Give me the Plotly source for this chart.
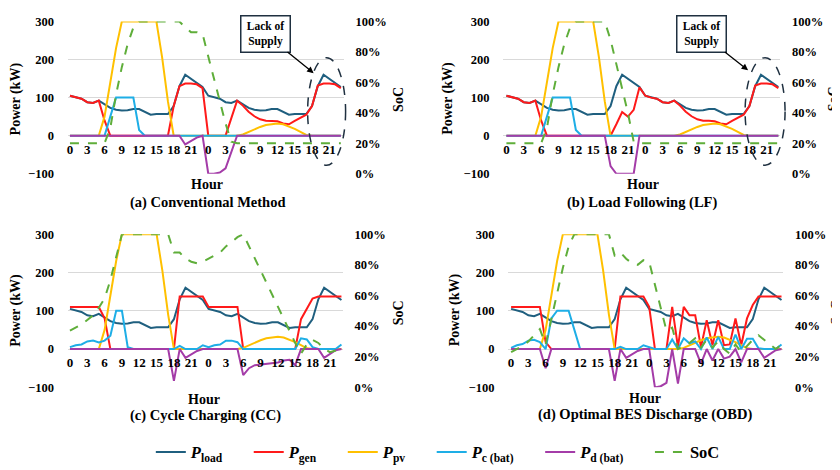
import plotly.graph_objects as go

hours = list(range(48))
tick_vals = list(range(0, 48, 3))
tick_text = ["0", "3", "6", "9", "12", "15", "18", "21"] * 2
power_ticks = [-100, 0, 100, 200, 300]
soc_ticks = [0, 20, 40, 60, 80, 100]
soc_labels = ["0%", "20%", "40%", "60%", "80%", "100%"]

load_day = [105, 100, 97, 88, 86, 92, 82, 73, 68, 66, 67, 70, 70, 62, 55, 57, 57, 57, 78, 130, 160, 150, 140, 128]
load = load_day + load_day
pv = [0, 0, 0, 0, 0, 0, 50, 140, 230, 300, 300, 300, 300, 300, 300, 300, 205, 90, 0, 0, 0, 0, 0, 0,
      0, 0, 0, 0, 0, 0, 3, 10, 17, 23, 28, 31, 32, 30, 25, 18, 10, 2, 0, 0, 0, 0, 0, 0]

# (a) Conventional
gen_a = [105, 100, 97, 88, 86, 92, 40, 0, 0, 0, 0, 0, 0, 0, 0, 0, 0, 0, 78, 130, 137, 137, 135, 125,
         0, 0, 0, 0, 46, 92, 79, 63, 51, 43, 39, 39, 38, 32, 30, 39, 47, 55, 78, 132, 137, 137, 135, 125]
pc_a = [0, 0, 0, 0, 0, 0, 0, 50, 100, 100, 100, 100, 15, 0, 0, 0, 0, 0, 0, 0, 0, 0, 0, 0,
        0, 0, 0, 0, 0, 0, 0, 0, 0, 0, 0, 0, 0, 0, 0, 0, 0, 0, 0, 0, 0, 0, 0, 0]
pd_a = [0, 0, 0, 0, 0, 0, 0, 0, 0, 0, 0, 0, 0, 0, 0, 0, 0, 0, 0, 0, -23, -13, -5, 0,
        -100, -100, -97, -86, -40, 0, 0, 0, 0, 0, 0, 0, 0, 0, 0, 0, 0, 0, 0, 0, 0, 0, 0, 0]
soc_a = [20, 20, 20, 20, 20, 20, 20, 30, 52, 70, 85, 96, 100, 100, 100, 100, 100, 100, 100, 100, 96, 93, 93, 92,
         77, 62, 47, 33, 21, 20, 20, 20, 20, 20, 20, 20, 20, 20, 20, 20, 20, 20, 20, 20, 20, 20, 20, 20]

# (b) Load Following
gen_b = [105, 100, 97, 88, 86, 92, 40, 0, 0, 0, 0, 0, 0, 0, 0, 0, 0, 0, 0, 30, 62, 50, 68, 127,
         105, 100, 97, 88, 86, 92, 79, 63, 51, 43, 39, 39, 38, 32, 30, 39, 47, 55, 78, 132, 137, 137, 135, 125]
pc_b = pc_a
pd_b = [0, 0, 0, 0, 0, 0, 0, 0, 0, 0, 0, 0, 0, 0, 0, 0, 0, 0, -80, -100, -100, -100, -100, 0,
        0, 0, 0, 0, 0, 0, 0, 0, 0, 0, 0, 0, 0, 0, 0, 0, 0, 0, 0, 0, 0, 0, 0, 0]
soc_b = [20, 20, 20, 20, 20, 20, 20, 30, 52, 70, 85, 96, 100, 100, 100, 100, 100, 100, 88, 72, 56, 40, 21, 20,
         20, 20, 20, 20, 20, 20, 20, 20, 20, 20, 20, 20, 20, 20, 20, 20, 20, 20, 20, 20, 20, 20, 20, 20]

# (c) Cycle Charging
gen_c = [110, 110, 110, 110, 110, 110, 80, 0, 0, 0, 0, 0, 0, 0, 0, 0, 0, 0, 0, 137, 137, 137, 137, 137,
         110, 110, 110, 110, 110, 110, 0, 0, 0, 0, 0, 0, 0, 0, 0, 0, 78, 105, 132, 137, 137, 137, 137, 137]
pc_c = [5, 10, 12, 20, 22, 17, 22, 35, 100, 100, 5, 0, 0, 0, 0, 0, 0, 0, 0, 8, 0, 0, 0, 10,
        5, 10, 12, 22, 22, 18, 0, 0, 0, 0, 0, 0, 0, 0, 0, 0, 28, 25, 5, 0, 0, 0, 0, 12]
pd_c = [0, 0, 0, 0, 0, 0, 0, 0, 0, 0, 0, 0, 0, 0, 0, 0, 0, 0, -83, 0, -23, -13, -5, 0,
        0, 0, 0, 0, 0, 0, -68, -50, -42, -40, -38, -37, -35, -30, -28, -42, 0, 0, 0, 0, -23, -13, -3, 0]
soc_c = [37, 39, 41, 44, 47, 52, 58, 70, 86, 100, 100, 100, 100, 100, 100, 100, 100, 100, 88, 88, 84, 82, 81, 82,
         84, 86, 88, 92, 95, 98, 100, 92, 84, 76, 68, 61, 53, 45, 37, 29, 22, 28, 31, 29, 25, 23, 24, 27]

# (d) Optimal BES Discharge
gen_d = [110, 110, 110, 110, 110, 110, 18, 0, 0, 0, 0, 0, 0, 0, 0, 0, 0, 0, 0, 137, 137, 137, 137, 137,
         110, 0, 0, 0, 110, 5, 110, 88, 88, 5, 75, 10, 75, 10, 12, 80, 10, 80, 115, 137, 137, 137, 137, 137]
pc_d = [3, 10, 13, 22, 24, 18, 0, 80, 100, 100, 100, 50, 0, 0, 0, 0, 0, 0, 0, 6, 0, 0, 0, 10,
        5, 0, 0, 0, 25, 0, 28, 15, 20, 0, 30, 0, 32, 0, 0, 38, 0, 27, 27, 2, 0, 0, 0, 12]
pd_d = [0, 0, 0, 0, 0, 0, -50, 0, 0, 0, 0, 0, 0, 0, 0, 0, 0, 0, -83, 0, -23, -13, -5, 0,
        0, -100, -97, -88, 0, -90, 0, 0, 0, -38, 0, -30, 0, -25, -20, 0, -35, 0, 0, 0, -23, -13, -3, 0]
soc_d = [23, 25, 27, 30, 34, 38, 28, 45, 62, 78, 92, 100, 100, 100, 100, 100, 100, 100, 86, 88, 84, 81, 80, 83,
         82, 67, 52, 37, 39, 25, 27, 29, 32, 26, 31, 26, 30, 25, 22, 28, 23, 27, 31, 34, 31, 28, 25, 28]

panels = [
    dict(gen=gen_a, pc=pc_a, pd=pd_a, soc=soc_a, title="(a) Conventional Method"),
    dict(gen=gen_b, pc=pc_b, pd=pd_b, soc=soc_b, title="(b) Load Following (LF)"),
    dict(gen=gen_c, pc=pc_c, pd=pd_c, soc=soc_c, title="(c) Cycle Charging (CC)"),
    dict(gen=gen_d, pc=pc_d, pd=pd_d, soc=soc_d, title="(d) Optimal BES Discharge (OBD)"),
]

C_LOAD = "#1F5F7F"
C_GEN = "#FF1A1A"
C_PV = "#FFC000"
C_PC = "#1EAEE6"
C_PD = "#A43CA8"
C_SOC = "#5FAE3A"

# the page body has an 8px margin: figure is 832x462 placed at (8, 8) of the 840x470 window
OFF = 8
W, H = 840 - OFF, 470 - OFF
FONT = "Liberation Serif"


def px(x):
    return (x - OFF) / W


def py(y):
    return 1 - (y - OFF) / H


def bfont(size):
    return dict(family=FONT, size=size, color="black", weight="bold")


# window-pixel layout of each panel: plot left, right, top, bottom, x-range
geo = [
    dict(l=67, r=343, t=14.7, b=171.7, xr=[-0.35, 47.48]),
    dict(l=503, r=780, t=14.7, b=171.7, xr=[-0.52, 47.3]),
    dict(l=67, r=342, t=234, b=392, xr=[-0.35, 47.2]),
    dict(l=508, r=783, t=234, b=392, xr=[-0.47, 47.27]),
]

fig = go.Figure()
pad = "\u00a0" * 5
names = ["<b><i>P</i></b><sub><b>load</b></sub>" + pad, "<b><i>P</i></b><sub><b>gen</b></sub>" + pad,
         "<b><i>P</i></b><sub><b>pv</b></sub>" + pad, "<b><i>P</i></b><sub><b>c (bat)</b></sub>" + pad,
         "<b><i>P</i></b><sub><b>d (bat)</b></sub>" + pad, "<b>SoC</b>"]

for i, p in enumerate(panels):
    k = i + 1
    xa = "x" if k == 1 else f"x{k}"
    ya = "y" if k == 1 else f"y{k}"
    yr = f"y{k + 4}"
    show = (k == 1)
    series = [(load, C_LOAD), (p["gen"], C_GEN), (pv, C_PV), (p["pc"], C_PC), (p["pd"], C_PD)]
    for j, (vals, col) in enumerate(series):
        fig.add_trace(go.Scatter(x=hours, y=vals, mode="lines", name=names[j], showlegend=show,
                                 line=dict(color=col, width=2), xaxis=xa, yaxis=ya, hoverinfo="skip"))
    fig.add_trace(go.Scatter(x=hours, y=p["soc"], mode="lines", name=names[5], showlegend=show,
                             line=dict(color=C_SOC, width=2, dash="dash"), xaxis=xa, yaxis=yr, hoverinfo="skip"))

layout = dict(width=W, height=H, margin=dict(l=0, r=0, t=0, b=0),
              paper_bgcolor="white", plot_bgcolor="white",
              font=bfont(13),
              legend=dict(orientation="h", x=px(150), xanchor="left", y=py(459), yanchor="middle",
                          font=dict(family=FONT, size=16.5, color="black"), itemwidth=30,
                          bgcolor="rgba(0,0,0,0)"))

annotations = []
shapes = []
for i, g in enumerate(geo):
    k = i + 1
    xd = [px(g["l"]), px(g["r"])]
    yd = [py(g["b"]), py(g["t"])]
    zero_px = g["b"] - (g["b"] - g["t"]) * 0.25
    sfx = "" if k == 1 else str(k)
    layout[f"xaxis{sfx}"] = dict(domain=xd, range=g["xr"], anchor="free", position=py(zero_px + 2),
                                 tickmode="array", tickvals=tick_vals, ticktext=tick_text,
                                 showgrid=False, zeroline=False, showline=False, ticks="",
                                 ticklabelstandoff=2, tickfont=bfont(13))
    layout[f"yaxis{sfx}"] = dict(domain=yd, range=[-100, 300], anchor=f"x{sfx}" if k > 1 else "x",
                                 tickmode="array", tickvals=power_ticks,
                                 showgrid=True, gridcolor="#D9D9D9", gridwidth=1,
                                 zeroline=False, showline=False, ticks="", ticklabelstandoff=13,
                                 tickfont=bfont(12.5))
    layout[f"yaxis{k + 4}"] = dict(overlaying="y" if k == 1 else f"y{k}", side="right",
                                   anchor="x" if k == 1 else f"x{k}", range=[0, 100],
                                   tickmode="array", tickvals=soc_ticks, ticktext=soc_labels,
                                   showgrid=False, zeroline=False,
                                   showline=False, ticks="", ticklabelstandoff=11,
                                   tickfont=bfont(12.5))

# text labels: (x, y) window-pixel centres
ptitle = [(15, 94), (448, 94), (15, 312), (454, 312)]
soct = [(398, 95), (833, 95), (398, 315), (837, 315)]
hourt = [(206, 183), (643, 183), (203, 404), (645, 403)]
subt = [(207, 201), (642, 201), (205, 421), (645, 420)]
for i in range(4):
    annotations.append(dict(x=px(ptitle[i][0]), y=py(ptitle[i][1]), xref="paper", yref="paper",
                            xanchor="center", yanchor="middle",
                            text="Power (kW)", textangle=-90, showarrow=False, font=bfont(14)))
    annotations.append(dict(x=px(soct[i][0]), y=py(soct[i][1]), xref="paper", yref="paper",
                            xanchor="center", yanchor="middle",
                            text="SoC", textangle=-90, showarrow=False, font=bfont(14)))
    annotations.append(dict(x=px(hourt[i][0]), y=py(hourt[i][1]), xref="paper", yref="paper",
                            xanchor="center", yanchor="middle",
                            text="Hour", showarrow=False, font=bfont(14)))
    annotations.append(dict(x=px(subt[i][0]), y=py(subt[i][1]), xref="paper", yref="paper",
                            xanchor="center", yanchor="middle",
                            text=panels[i]["title"], showarrow=False, font=bfont(14.5)))

# "Lack of Supply" callouts (a) and (b)
callouts = [
    dict(head=(313, 68), box=(264.5, 28.5), ell=(307, 52, 345, 163)),
    dict(head=(748, 65), box=(701.5, 28.5), ell=(745, 52, 785, 163)),
]
for c in callouts:
    hx, hy = c["head"]
    bx, by = c["box"]
    annotations.append(dict(x=px(hx), y=py(hy), xref="paper", yref="paper",
                            ax=bx - hx, ay=by - hy, text="Lack of<br>Supply", showarrow=True,
                            xanchor="center", yanchor="middle",
                            arrowhead=2, arrowsize=1, arrowwidth=1.3, arrowcolor="black",
                            bordercolor="#1F3040", borderwidth=1.5, borderpad=2, bgcolor="white",
                            width=44, height=31, font=bfont(11.5)))
    x0, y0, x1, y1 = c["ell"]
    shapes.append(dict(type="circle", xref="paper", yref="paper", x0=px(x0), x1=px(x1),
                       y0=py(y1), y1=py(y0), line=dict(color="#1F3040", width=1.5, dash="dash")))

layout["annotations"] = annotations
layout["shapes"] = shapes
fig.update_layout(**layout)
fig.write_html("out.html")
